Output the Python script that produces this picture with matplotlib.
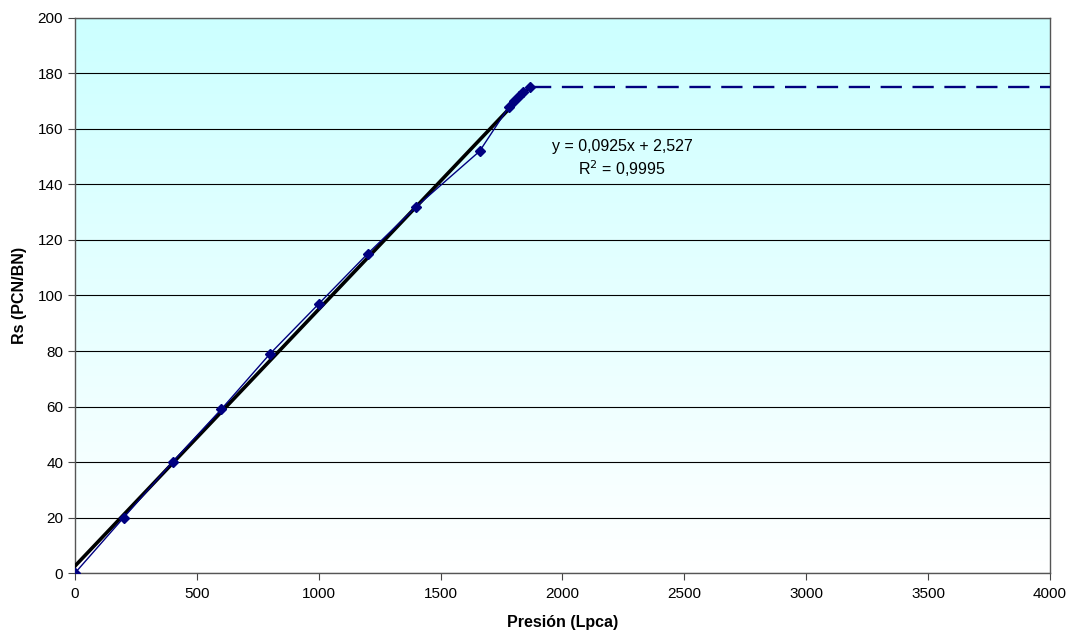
import matplotlib.pyplot as plt
import numpy as np

plt.rcParams['font.family'] = ['Liberation Sans', 'DejaVu Sans']

# datos
presion = [0, 200, 400, 600, 800, 1000, 1200, 1400, 1660, 1780, 1800, 1820, 1840, 1865]
rs = [0, 20, 40, 59, 79, 97, 115, 132, 152, 168, 170, 172, 173.5, 175]
p_sat = 1865
rs_sat = 175
p_max = 4000

pend, corte = 0.0925, 2.527

fig = plt.figure(figsize=(10.7, 6.35), dpi=100)
ax = fig.add_axes([0.0701, 0.0976, 0.9112, 0.8741])

# fondo degradado cyan -> blanco
grad = np.linspace(0, 1, 256).reshape(-1, 1)
ax.imshow(grad, extent=[0, 4000, 0, 200], aspect='auto', origin='upper',
          cmap=plt.matplotlib.colors.LinearSegmentedColormap.from_list('g', ['#ccffff', '#ffffff']),
          zorder=0)

ax.yaxis.grid(True, color='black', linewidth=0.8, zorder=1)

x_fit = np.array([0, p_sat])
ax.plot(x_fit, pend * x_fit + corte, color='black', linewidth=2.6, zorder=3)

ax.plot(presion, rs, color='#000080', linewidth=1.0, marker='D', markersize=5,
        zorder=4)
ax.plot([p_sat, p_max], [rs_sat, rs_sat], color='#000080', linewidth=1.7,
        dashes=(9, 4.5), zorder=4)

ax.text(2244, 153.8, 'y = 0,0925x + 2,527', ha='center', va='center', fontsize=11.5)
ax.text(2244, 145.8, r'R$^2$ = 0,9995', ha='center', va='center', fontsize=11.5)

ax.set_xlim(0, 4000)
ax.set_ylim(0, 200)
ax.set_xticks(range(0, 4001, 500))
ax.set_yticks(range(0, 201, 20))
ax.tick_params(labelsize=11, length=5, width=0.8, direction='out', color='#444444')
ax.tick_params(axis='x', pad=5)
for s in ax.spines.values():
    s.set_color('#555555')
    s.set_linewidth(1.0)

ax.set_xlabel('Presión (Lpca)', fontsize=11.5, fontweight='bold', labelpad=10)
ax.set_ylabel('Rs (PCN/BN)', fontsize=11.5, fontweight='bold', labelpad=8)

plt.savefig('out.png')
